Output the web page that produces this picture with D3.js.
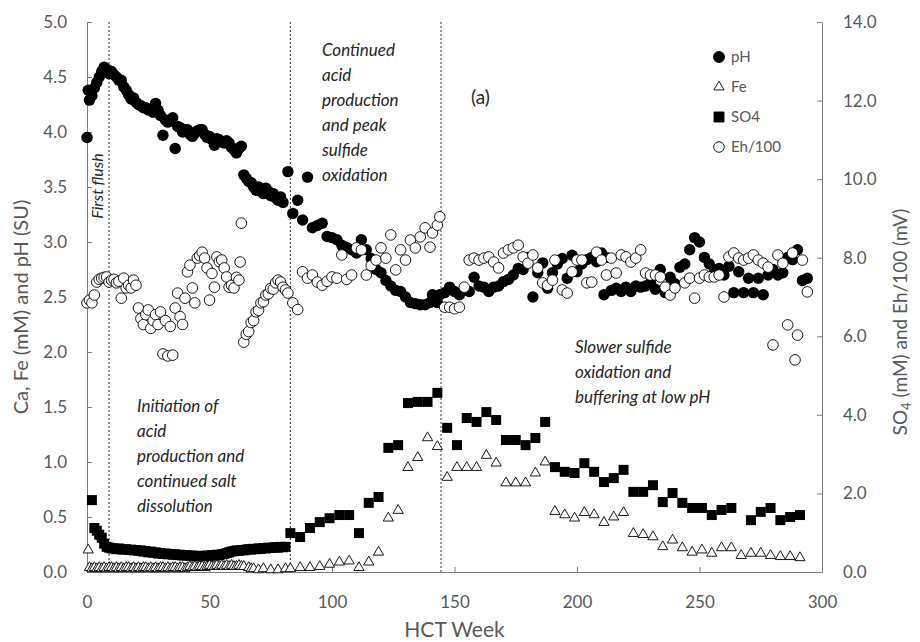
<!DOCTYPE html>
<html>
<head>
<meta charset="utf-8">
<script src="https://cdn.jsdelivr.net/npm/d3@7"></script>
<style>
  body { margin: 0; background: #fff; }
  svg text { font-family: Lato, "Open Sans", sans-serif; }
</style>
</head>
<body>
<div id="chart"></div>
<script>
// ---- data: [HCT week, value] ----
var ph = [[0,3.95],[0.5,4.38],[1,4.29],[2,4.33],[3,4.4],[4,4.45],[5,4.5],[6,4.55],[7,4.59],[8,4.57],[9,4.53],[10,4.55],[11,4.52],[12,4.5],[13,4.47],[14,4.47],[15,4.41],[16,4.38],[17,4.34],[18,4.3],[19,4.31],[20,4.27],[21,4.25],[22,4.24],[23,4.22],[24,4.22],[25,4.2],[26,4.21],[27,4.18],[28,4.26],[29,4.2],[30,4.15],[31,3.97],[32,4.11],[33,4.09],[34,4.1],[35,4.13],[36,3.85],[37,4.05],[38,4.04],[39,4.0],[40,4.02],[41,4.02],[42,3.98],[43,3.96],[44,3.99],[45,4.01],[46,4.02],[47,4.02],[48,3.98],[49,3.95],[50,3.96],[51,3.93],[52,3.88],[53,3.94],[54,3.93],[55,3.91],[56,3.9],[57,3.92],[58,3.9],[59,3.86],[60,3.84],[61,3.81],[62,3.85],[63,3.87],[64,3.61],[65,3.58],[66,3.55],[67,3.54],[68,3.5],[69,3.47],[70,3.5],[71,3.46],[72,3.44],[73,3.49],[74,3.46],[75,3.42],[76,3.44],[77,3.4],[78,3.38],[79,3.41],[80,3.36],[82,3.64],[84,3.26],[86,3.38],[88,3.2],[90,3.59],[92,3.13],[94,3.15],[96,3.17],[98,3.05],[100,3.04],[102,3.02],[104,2.97],[106,2.95],[108,2.93],[110,2.9],[112,3.02],[114,2.93],[116,2.85],[118,2.75],[120,2.72],[122,2.65],[124,2.6],[126,2.56],[128,2.55],[130,2.5],[132,2.45],[134,2.44],[136,2.43],[138,2.43],[140,2.45],[141,2.52],[143,2.45],[144,2.52],[146,2.54],[148,2.59],[150,2.55],[152,2.52],[154,2.56],[156,2.55],[158,2.68],[160,2.6],[162,2.59],[164,2.55],[166,2.59],[168,2.6],[170,2.64],[172,2.66],[174,2.7],[176,2.76],[178,2.75],[180,2.86],[182,2.5],[184,2.72],[186,2.81],[188,2.58],[190,2.72],[192,2.8],[194,2.85],[196,2.67],[198,2.88],[200,2.73],[202,2.8],[204,2.84],[206,2.86],[208,2.82],[210,2.9],[211,2.52],[212,2.86],[214,2.56],[216,2.58],[218,2.55],[220,2.59],[222,2.55],[224,2.6],[226,2.59],[228,2.6],[230,2.63],[232,2.57],[234,2.75],[236,2.54],[238,2.68],[240,2.62],[242,2.77],[244,2.8],[246,2.93],[248,3.04],[250,3.0],[252,2.86],[254,2.8],[256,2.72],[258,2.76],[260,2.7],[262,2.78],[264,2.54],[266,2.73],[268,2.54],[270,2.67],[272,2.54],[274,2.67],[276,2.52],[278,2.7],[280,2.75],[282,2.7],[284,2.72],[286,2.86],[288,2.84],[290,2.93],[292,2.65],[294,2.67]];

var fe = [[0.5,0.2],[1,0.04],[2,0.03],[3,0.04],[4,0.03],[5,0.04],[6,0.03],[7,0.04],[8,0.03],[9,0.04],[10,0.04],[11,0.03],[12,0.04],[13,0.03],[14,0.04],[15,0.03],[16,0.04],[17,0.04],[18,0.03],[19,0.04],[20,0.03],[21,0.04],[22,0.03],[23,0.04],[24,0.04],[25,0.03],[26,0.04],[27,0.03],[28,0.04],[29,0.03],[30,0.04],[31,0.04],[32,0.03],[33,0.04],[34,0.03],[35,0.04],[36,0.04],[37,0.03],[38,0.04],[39,0.04],[40,0.03],[41,0.04],[42,0.05],[43,0.04],[44,0.05],[45,0.04],[46,0.05],[47,0.05],[48,0.04],[49,0.05],[50,0.06],[51,0.05],[52,0.05],[53,0.06],[54,0.05],[55,0.06],[56,0.05],[57,0.06],[58,0.05],[59,0.06],[60,0.05],[61,0.05],[62,0.06],[63,0.05],[64,0.05],[66,0.04],[67,0.03],[68,0.03],[70,0.02],[72,0.03],[75,0.02],[78,0.02],[81,0.03],[83,0.03],[87,0.04],[91,0.04],[95,0.05],[99,0.07],[103,0.09],[107,0.1],[111,0.04],[115,0.09],[119,0.18],[123,0.49],[127,0.56],[131,0.95],[135,1.04],[139,1.22],[143,1.14],[147,0.86],[151,0.95],[155,0.95],[159,0.95],[163,1.06],[167,0.99],[171,0.81],[175,0.81],[179,0.81],[183,0.9],[187,1.0],[191,0.55],[195,0.52],[199,0.49],[203,0.54],[207,0.52],[211,0.45],[215,0.5],[219,0.54],[223,0.35],[227,0.34],[231,0.32],[235,0.23],[239,0.29],[243,0.22],[247,0.18],[251,0.2],[255,0.17],[259,0.22],[263,0.22],[267,0.15],[271,0.17],[275,0.17],[279,0.15],[283,0.14],[287,0.14],[291,0.13]];

var so4 = [[2,1.83],[3,1.12],[4,1.05],[5,0.95],[6,0.87],[7,0.72],[8,0.64],[9,0.62],[10,0.6],[11,0.6],[12,0.58],[13,0.6],[14,0.58],[15,0.57],[16,0.58],[17,0.56],[18,0.57],[19,0.55],[20,0.56],[21,0.54],[22,0.55],[23,0.52],[24,0.53],[25,0.5],[26,0.52],[27,0.49],[28,0.5],[29,0.47],[30,0.48],[31,0.46],[32,0.47],[33,0.45],[34,0.46],[35,0.44],[36,0.45],[37,0.43],[38,0.44],[39,0.42],[40,0.43],[41,0.42],[42,0.41],[43,0.42],[44,0.4],[45,0.41],[46,0.4],[47,0.41],[48,0.4],[49,0.42],[50,0.41],[51,0.43],[52,0.42],[53,0.44],[54,0.43],[55,0.45],[56,0.46],[57,0.48],[58,0.5],[59,0.52],[60,0.53],[61,0.55],[62,0.54],[63,0.56],[64,0.55],[65,0.57],[66,0.58],[67,0.57],[68,0.59],[69,0.58],[70,0.6],[71,0.59],[72,0.61],[73,0.6],[74,0.62],[75,0.61],[76,0.62],[77,0.63],[78,0.62],[79,0.64],[80,0.63],[81,0.64],[83,0.99],[87,0.89],[91,1.12],[95,1.27],[99,1.37],[103,1.45],[107,1.45],[111,0.99],[115,1.76],[119,1.91],[123,3.16],[127,3.23],[131,4.3],[135,4.33],[139,4.33],[143,4.56],[147,3.67],[151,3.23],[155,3.92],[159,3.82],[163,4.07],[167,3.87],[171,3.36],[175,3.36],[179,3.23],[183,3.41],[187,3.82],[191,2.67],[195,2.55],[199,2.52],[203,2.77],[207,2.55],[211,2.29],[215,2.39],[219,2.6],[223,2.04],[227,2.04],[231,2.21],[235,1.78],[239,2.01],[243,1.76],[247,1.63],[251,1.63],[255,1.45],[259,1.58],[263,1.63],[271,1.32],[275,1.53],[279,1.63],[283,1.32],[287,1.4],[291,1.45]];

var eh = [[0,6.85],[1,6.92],[2,6.85],[3,7.05],[4,7.38],[5,7.45],[6,7.48],[7,7.5],[8,7.51],[9,7.38],[10,7.43],[11,7.45],[12,7.36],[13,7.4],[14,6.97],[15,7.48],[16,7.23],[17,7.3],[18,7.23],[19,7.43],[20,7.3],[21,6.72],[22,6.45],[23,6.3],[24,6.55],[25,6.67],[26,6.2],[27,6.4],[28,6.55],[29,6.3],[30,6.62],[31,5.55],[32,6.4],[33,5.5],[34,6.25],[35,5.52],[36,6.72],[37,7.1],[38,6.5],[39,6.3],[40,6.97],[41,7.64],[42,7.81],[43,7.23],[44,6.85],[45,7.99],[46,8.05],[47,8.14],[48,7.99],[49,7.74],[50,6.92],[51,7.6],[52,7.25],[53,8.02],[54,7.9],[55,7.94],[56,7.74],[57,7.51],[58,7.25],[59,7.3],[60,7.23],[61,7.5],[62,7.43],[62.5,7.89],[63,8.88],[64,5.85],[65,6.05],[66,6.12],[67,6.35],[68,6.4],[69,6.62],[70,6.66],[71,6.85],[72,6.88],[73,7.05],[74,7.08],[75,7.22],[76,7.2],[77,7.36],[78,7.43],[79,7.38],[80,7.25],[81,7.18],[82,7.1],[84,6.85],[86,6.68],[88,7.64],[90,7.48],[92,7.56],[94,7.38],[96,7.3],[98,7.4],[100,7.51],[102,7.48],[104,8.07],[106,7.45],[108,7.56],[110,8.25],[112,8.2],[114,7.56],[116,7.8],[118,7.94],[120,8.25],[122,7.99],[124,8.58],[126,7.69],[128,8.2],[130,7.94],[132,8.45],[134,8.25],[136,8.53],[138,8.76],[140,8.27],[141,8.63],[143,8.83],[144,9.04],[146,6.74],[148,6.74],[150,6.7],[152,6.74],[154,7.25],[156,7.94],[158,7.99],[160,7.94],[162,7.99],[164,8.02],[166,7.89],[168,7.74],[170,8.12],[172,8.2],[174,8.25],[176,8.32],[178,8.02],[180,7.86],[182,8.07],[184,7.74],[186,7.36],[188,7.3],[190,7.43],[191,7.94],[194,7.18],[196,7.1],[198,7.64],[200,7.94],[202,7.94],[204,7.36],[206,7.38],[208,8.14],[210,7.94],[212,7.56],[214,7.99],[216,7.61],[218,8.07],[220,8.02],[222,7.89],[224,7.99],[226,8.2],[228,7.61],[230,7.56],[232,7.56],[234,7.51],[236,7.25],[238,7.05],[240,7.23],[244,7.36],[246,7.48],[248,6.97],[250,7.48],[252,7.56],[254,7.51],[256,7.51],[258,7.56],[260,7.0],[262,8.02],[264,8.12],[266,7.99],[268,7.94],[270,7.99],[272,8.07],[274,7.94],[276,7.86],[278,7.76],[280,5.78],[282,8.07],[284,7.86],[286,6.29],[288,8.12],[289,5.4],[290,6.03],[292,7.94],[294,7.13]];

var phaseWeeks = [9, 83, 144.5];
var xTicks = [0, 50, 100, 150, 200, 250, 300];
var leftTicks = [0, 0.5, 1, 1.5, 2, 2.5, 3, 3.5, 4, 4.5, 5];
var rightTicks = [0, 2, 4, 6, 8, 10, 12, 14];

// ---- layout ----
var W = 920, H = 642;
var plot = {left: 87, right: 822, top: 22, bottom: 572};
var grey = "#595959";

var svg = d3.select("#chart").append("svg")
    .attr("width", W)
    .attr("height", H);

var x = d3.scaleLinear().domain([0, 300]).range([plot.left, plot.right]);
var yL = d3.scaleLinear().domain([0, 5]).range([plot.bottom, plot.top]);
var yR = d3.scaleLinear().domain([0, 14]).range([plot.bottom, plot.top]);

function styleAxis(g, size) {
  g.select(".domain").attr("stroke", "#7f7f7f");
  g.selectAll(".tick line").attr("stroke", "#7f7f7f");
  g.selectAll(".tick text").attr("fill", grey).style("font-size", size + "px");
}

// axes
svg.append("g")
    .attr("transform", "translate(" + plot.left + ",0)")
    .call(d3.axisLeft(yL).tickValues(leftTicks).tickFormat(d3.format(".1f"))
      .tickSize(-5).tickSizeOuter(0).tickPadding(20))
    .call(styleAxis, 17);

svg.append("g")
    .attr("transform", "translate(" + plot.right + ",0)")
    .call(d3.axisRight(yR).tickValues(rightTicks).tickFormat(d3.format(".1f"))
      .tickSize(-5).tickSizeOuter(0).tickPadding(21))
    .call(styleAxis, 17);

svg.append("g")
    .attr("transform", "translate(0," + plot.bottom + ")")
    .call(d3.axisBottom(x).tickValues(xTicks).tickFormat(d3.format("d"))
      .tickSize(-5).tickSizeOuter(0).tickPadding(24))
    .call(styleAxis, 17);

// phase boundaries
svg.selectAll("line.phase")
  .data(phaseWeeks)
  .enter()
  .append("line")
    .attr("class", "phase")
    .attr("x1", function(d) { return x(d); })
    .attr("x2", function(d) { return x(d); })
    .attr("y1", plot.top)
    .attr("y2", plot.bottom)
    .attr("stroke", "#333")
    .attr("stroke-width", 1)
    .attr("stroke-dasharray", "2,2");

// series
var pts = svg.append("g");

pts.selectAll("circle.ph")
  .data(ph)
  .enter()
  .append("circle")
    .attr("class", "ph")
    .attr("cx", function(d) { return x(d[0]); })
    .attr("cy", function(d) { return yL(d[1]); })
    .attr("r", 5.7)
    .style("fill", "#000");

pts.selectAll("path.fe")
  .data(fe)
  .enter()
  .append("path")
    .attr("class", "fe")
    .attr("transform", function(d) { return "translate(" + x(d[0]) + "," + yL(d[1]) + ")"; })
    .attr("d", d3.symbol().type(d3.symbolTriangle).size(45))
    .style("fill", "#fff")
    .style("stroke", "#000")
    .style("stroke-width", 0.9);

pts.selectAll("path.so4")
  .data(so4)
  .enter()
  .append("path")
    .attr("class", "so4")
    .attr("transform", function(d) { return "translate(" + x(d[0]) + "," + yR(d[1]) + ")"; })
    .attr("d", d3.symbol().type(d3.symbolSquare).size(100))
    .style("fill", "#000");

pts.selectAll("circle.eh")
  .data(eh)
  .enter()
  .append("circle")
    .attr("class", "eh")
    .attr("cx", function(d) { return x(d[0]); })
    .attr("cy", function(d) { return yR(d[1]); })
    .attr("r", 5.3)
    .style("fill", "#fff")
    .style("stroke", "#000")
    .style("stroke-width", 0.9);

// annotations
var notes = [
  {x: 322, y: 56, lines: ["Continued", "acid", "production", "and peak", "sulfide", "oxidation"]},
  {x: 137, y: 412, lines: ["Initiation of", "acid", "production and", "continued salt", "dissolution"]},
  {x: 575, y: 353, lines: ["Slower sulfide", "oxidation and", "buffering at low pH"]}
];
notes.forEach(function(n) {
  var t = svg.append("text")
      .attr("x", n.x)
      .attr("y", n.y)
      .style("font-size", "17px")
      .style("font-style", "italic")
      .attr("fill", "#262626");
  n.lines.forEach(function(s, i) {
    t.append("tspan").attr("x", n.x).attr("dy", i === 0 ? 0 : 25).text(s);
  });
});

svg.append("text")
    .attr("transform", "translate(103,186) rotate(-90)")
    .attr("text-anchor", "middle")
    .style("font-size", "16px")
    .style("font-style", "italic")
    .attr("fill", "#262626")
    .text("First flush");

svg.append("text")
    .attr("x", 471)
    .attr("y", 104)
    .style("font-size", "19px")
    .attr("fill", "#262626")
    .text("(a)");

// legend
var legend = [
  {name: "pH", sym: d3.symbolCircle, size: 95, fill: "#000"},
  {name: "Fe", sym: d3.symbolTriangle, size: 45, fill: "#fff"},
  {name: "SO4", sym: d3.symbolSquare, size: 100, fill: "#000"},
  {name: "Eh/100", sym: d3.symbolCircle, size: 88, fill: "#fff"}
];
var lg = svg.selectAll("g.legend")
  .data(legend)
  .enter()
  .append("g")
    .attr("class", "legend")
    .attr("transform", function(d, i) { return "translate(719," + (57 + i * 30) + ")"; });
lg.append("path")
    .attr("d", function(d) { return d3.symbol().type(d.sym).size(d.size)(); })
    .style("fill", function(d) { return d.fill; })
    .style("stroke", "#000")
    .style("stroke-width", 0.9);
lg.append("text")
    .attr("x", 12)
    .attr("dy", "0.35em")
    .style("font-size", "15px")
    .attr("fill", grey)
    .text(function(d) { return d.name; });

// axis titles
svg.append("text")
    .attr("x", (plot.left + plot.right) / 2)
    .attr("y", 637)
    .attr("text-anchor", "middle")
    .style("font-size", "21px")
    .attr("fill", grey)
    .text("HCT Week");

svg.append("text")
    .attr("transform", "translate(28," + ((plot.top + plot.bottom) / 2 + 10) + ") rotate(-90)")
    .attr("text-anchor", "middle")
    .style("font-size", "20px")
    .attr("fill", grey)
    .text("Ca, Fe (mM) and pH (SU)");

var rt = svg.append("text")
    .attr("transform", "translate(907," + ((plot.top + plot.bottom) / 2 + 25) + ") rotate(-90)")
    .attr("text-anchor", "middle")
    .style("font-size", "19px")
    .attr("fill", grey);
rt.append("tspan").text("SO");
rt.append("tspan").attr("dy", 4).style("font-size", "13px").text("4");
rt.append("tspan").attr("dy", -4).text(" (mM) and Eh/100 (mV)");
</script>
</body>
</html>
